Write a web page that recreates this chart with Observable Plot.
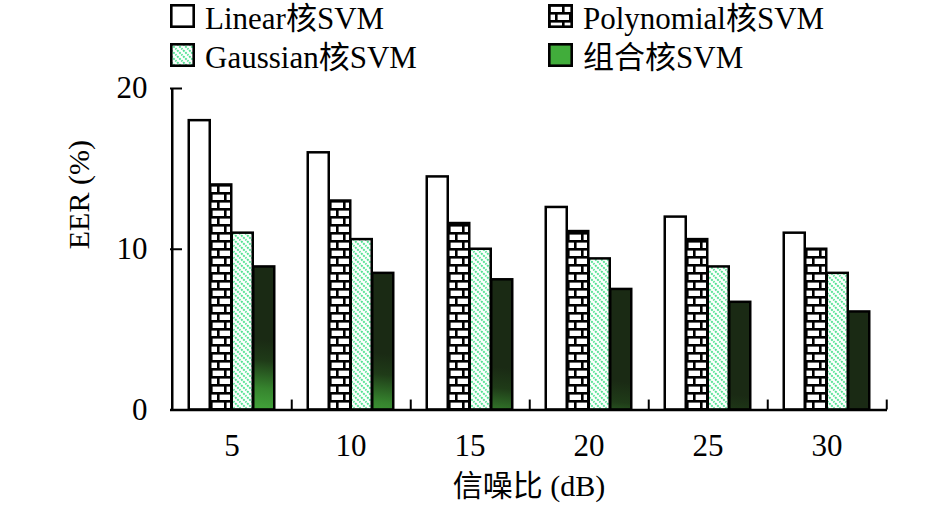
<!DOCTYPE html>
<html><head><meta charset="utf-8">
<script src="https://cdn.jsdelivr.net/npm/d3@7"></script>
<script src="https://cdn.jsdelivr.net/npm/@observablehq/plot@0.6"></script>
<style>
body{margin:0;background:#fff;}
#wrap{position:relative;width:946px;height:517px;font-family:"Liberation Serif","Times New Roman","Noto Sans CJK SC",serif;color:#000;}
#legend{position:absolute;left:0;top:0;width:946px;height:76px;font-size:31px;z-index:2;}
#legend .sw{position:absolute;}
#legend .lb{position:absolute;line-height:31px;white-space:nowrap;}
#chart{position:absolute;left:0;top:0;}
</style></head><body>
<svg width="0" height="0" style="position:absolute"><defs>
<pattern id="brick" patternUnits="userSpaceOnUse" width="14" height="16">
<rect width="14" height="16" fill="white"/>
<rect y="0" width="14" height="2.6" fill="black"/>
<rect y="8" width="14" height="2.6" fill="black"/>
<rect x="0" y="0" width="2.6" height="8" fill="black"/>
<rect x="7" y="8" width="2.6" height="8" fill="black"/>
</pattern>
<pattern id="hatch" patternUnits="userSpaceOnUse" width="6" height="6">
<rect width="6" height="6" fill="white"/>
<path d="M-1,-1 L7,7 M-1,5 L1,7 M5,-1 L7,1" stroke="#52e292" stroke-width="2" stroke-dasharray="2 1"/>
</pattern>
</defs></svg>
<div id="wrap"><div id="chart"></div><div id="legend"></div></div>
<script>
const snr = ["5","10","15","20","25","30"];
const seriesNames = ["Linear核SVM","Polynomial核SVM","Gaussian核SVM","组合核SVM"];
const linear = [18,16,14.5,12.6,12,11];
const polynomial = [14,13,11.6,11.1,10.6,10];
const gaussian = [11,10.6,10,9.4,8.9,8.5];
const combined = [8.9,8.5,8.1,7.5,6.7,6.1];
const yTicks = [0,10,20];
const xTitle = "信噪比 (dB)";
const yTitle = "EER (%)";

const seriesVals = [linear, polynomial, gaussian, combined];
const fills = ["white","url(#brick)","url(#hatch)","url(#greenGrad)"];
const legendFills = ["white","url(#brick)","url(#hatch)","#41ad3b"];

// legend
const legend = d3.select("#legend");
const pos = [[170,4],[548,4],[170,43],[548,43]];
seriesNames.forEach((name,i)=>{
  const [lx,ly] = pos[i];
  const s = legend.append("svg").attr("class","sw").attr("width",26).attr("height",25)
    .style("left",lx+"px").style("top",ly+"px");
  s.append("rect").attr("x",1.3).attr("y",1.3).attr("width",22.4).attr("height",21.4)
    .attr("fill",legendFills[i]).attr("stroke","black").attr("stroke-width",2.6);
  legend.append("div").attr("class","lb").style("left",(lx+35)+"px").style("top",(ly-1.5)+"px").text(name);
});

const W=946,H=517,ML=170,MR=59,MT=88,MB=107.5;
const bw=(W-ML-MR)/snr.length;
const barW=21.5;
const outer=(bw-4*barW)/2;

const barMarks = seriesVals.map((vals,i)=>Plot.barY(
  snr.map((s,j)=>({snr:s, value:vals[j]})),
  {x:"snr", y:"value", fill:fills[i], stroke:"black", strokeWidth:2.5,
   insetLeft: outer+i*barW, insetRight: bw-outer-(i+1)*barW}));

const chart = Plot.plot({
  width:W, height:H, marginLeft:ML, marginRight:MR, marginTop:MT, marginBottom:MB,
  style:{fontFamily:'"Liberation Serif","Times New Roman","Noto Sans CJK SC",serif', fontSize:"30px", background:"white", color:"black"},
  x:{domain:snr, padding:0},
  y:{domain:[0,20]},
  marks:[
    ...barMarks,
    Plot.ruleY([0],{strokeWidth:2.5}),
    Plot.ruleX([snr[0]],{dx:-bw/2, y1:0, y2:20, strokeWidth:2.5}),
    Plot.ruleX(snr,{dx:bw/2, y1:0, y2:0.62, strokeWidth:2}),
    Plot.axisY(yTicks,{tickSize:-12, tickPadding:35, fontSize:31, strokeWidth:2, label:null}),
    Plot.axisX({tickSize:0, tickPadding:24, fontSize:31, label:null}),
    Plot.text([yTitle],{text:d=>d, frameAnchor:"left", dx:-91, rotate:-90, fontSize:30}),
    Plot.text([xTitle],{text:d=>d, frameAnchor:"bottom", dy:86, fontSize:30})
  ]
});
document.getElementById("chart").appendChild(chart);

// gradient for the combined-kernel bars, placed in the plot's user space via its scales
const xs = chart.scale("x"), ys = chart.scale("y");
const gx1 = xs.apply(snr[0]) + outer + 3.5*barW, gy1 = ys.apply(0);
const a = 1/(5*bw), b = 1/70, den = a*a + b*b;
const defs = d3.select(chart).insert("defs",":first-child");
const g = defs.append("linearGradient").attr("id","greenGrad").attr("gradientUnits","userSpaceOnUse")
  .attr("x1",gx1).attr("y1",gy1).attr("x2",gx1 + a/den).attr("y2",gy1 - b/den);
g.append("stop").attr("offset",0).attr("stop-color","#42a33a");
g.append("stop").attr("offset",0.3).attr("stop-color","#36842e");
g.append("stop").attr("offset",0.7).attr("stop-color","#1f3b18");
g.append("stop").attr("offset",1).attr("stop-color","#1a2a14");
</script>
</body></html>
